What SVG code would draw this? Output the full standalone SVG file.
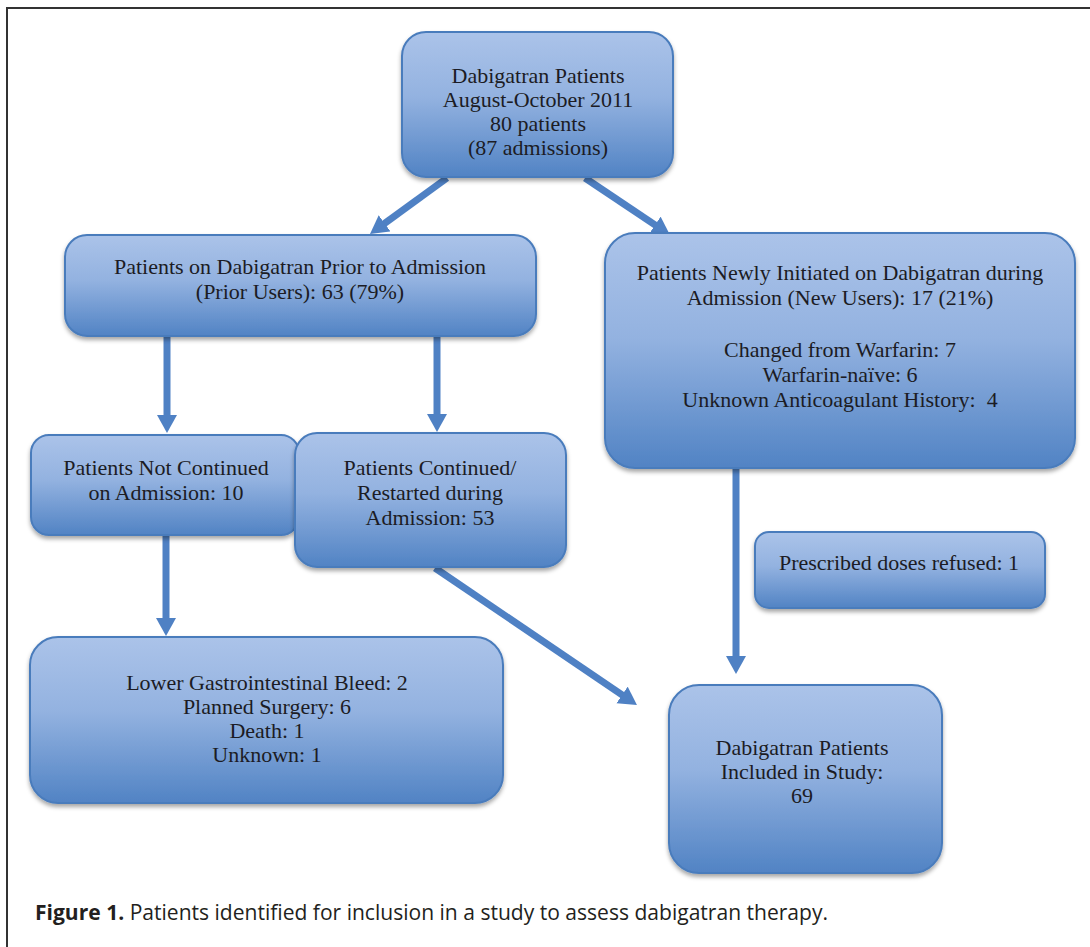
<svg xmlns="http://www.w3.org/2000/svg" width="1090" height="947" viewBox="0 0 1090 947">
<style>
.box{fill:url(#g);stroke:#4a7cbc;stroke-width:2;filter:url(#sh)}
.t{font-family:"Liberation Serif","Times New Roman",serif;font-size:22px;fill:#1c1c24;text-anchor:middle}
.c{stroke:#4f81c4;stroke-width:7;fill:none;marker-end:url(#ah)}
.cap{font-family:"Open Sans","Noto Sans",sans-serif;font-size:22px;fill:#231f20}
</style>
<defs>
<linearGradient id="g" x1="0" y1="0" x2="0" y2="1">
<stop offset="0" stop-color="#abc3e9"/>
<stop offset="0.45" stop-color="#93b2e0"/>
<stop offset="1" stop-color="#5183c4"/>
</linearGradient>
<filter id="sh" x="-10%" y="-10%" width="120%" height="130%">
<feDropShadow dx="0" dy="3" stdDeviation="2" flood-color="#000" flood-opacity="0.35"/>
</filter>
<marker id="ah" markerUnits="userSpaceOnUse" markerWidth="20" markerHeight="22" refX="8" refY="10" orient="auto" viewBox="0 0 20 22">
<path d="M0,0 L18,10 L0,20 z" fill="#4f81c4"/>
</marker>
</defs>
<rect width="1090" height="947" fill="#fff"/>
<path d="M7,947 V8 H1090" fill="none" stroke="#333" stroke-width="2"/>

<g id="connectors">
<line class="c" x1="447" y1="178" x2="378.1" y2="228.1"/>
<line class="c" x1="585" y1="178" x2="661.7" y2="229.4"/>
<line class="c" x1="167" y1="337" x2="167" y2="423"/>
<line class="c" x1="437" y1="337" x2="437" y2="422"/>
<line class="c" x1="166" y1="535" x2="166" y2="626"/>
<line class="c" x1="435" y1="568" x2="628.7" y2="699.4"/>
<line class="c" x1="736" y1="468" x2="736" y2="664"/>
</g>

<g id="n-top">
<rect class="box" x="402" y="32" width="271" height="145" rx="24"/>
<text class="t" x="538" y="83">Dabigatran Patients</text>
<text class="t" x="538" y="107">August-October 2011</text>
<text class="t" x="538" y="131">80 patients</text>
<text class="t" x="538" y="155">(87 admissions)</text>
</g>

<g id="n-prior">
<rect class="box" x="65" y="235" width="471" height="101" rx="22"/>
<text class="t" x="300" y="274">Patients on Dabigatran Prior to Admission</text>
<text class="t" x="300" y="299">(Prior Users): 63 (79%)</text>
</g>

<g id="n-new">
<rect class="box" x="605" y="233" width="470" height="235" rx="30"/>
<text class="t" x="840" y="280">Patients Newly Initiated on Dabigatran during</text>
<text class="t" x="840" y="305">Admission (New Users): 17 (21%)</text>
<text class="t" x="840" y="357">Changed from Warfarin: 7</text>
<text class="t" x="840" y="382">Warfarin-naïve: 6</text>
<text class="t" x="840" y="407">Unknown Anticoagulant History:&#160; 4</text>
</g>

<g id="n-notcont">
<rect class="box" x="31" y="435" width="268" height="100" rx="18"/>
<text class="t" x="166" y="475">Patients Not Continued</text>
<text class="t" x="166" y="500">on Admission: 10</text>
</g>

<g id="n-cont">
<rect class="box" x="295" y="433" width="271" height="134" rx="22"/>
<text class="t" x="430" y="475">Patients Continued/</text>
<text class="t" x="430" y="500">Restarted during</text>
<text class="t" x="430" y="525">Admission: 53</text>
</g>

<g id="n-refused">
<rect class="box" x="755" y="532" width="290" height="76" rx="14"/>
<text class="t" x="899" y="570">Prescribed doses refused: 1</text>
</g>

<g id="n-reasons">
<rect class="box" x="30" y="637" width="473" height="166" rx="28"/>
<text class="t" x="267" y="690">Lower Gastrointestinal Bleed: 2</text>
<text class="t" x="267" y="714">Planned Surgery: 6</text>
<text class="t" x="267" y="738">Death: 1</text>
<text class="t" x="267" y="762">Unknown: 1</text>
</g>

<g id="n-included">
<rect class="box" x="669" y="685" width="273" height="188" rx="30"/>
<text class="t" x="802" y="755">Dabigatran Patients</text>
<text class="t" x="802" y="779">Included in Study:</text>
<text class="t" x="802" y="803">69</text>
</g>

<text class="cap" x="35" y="920" textLength="793" lengthAdjust="spacingAndGlyphs"><tspan font-weight="bold">Figure 1.</tspan> Patients identified for inclusion in a study to assess dabigatran therapy.</text>
</svg>
